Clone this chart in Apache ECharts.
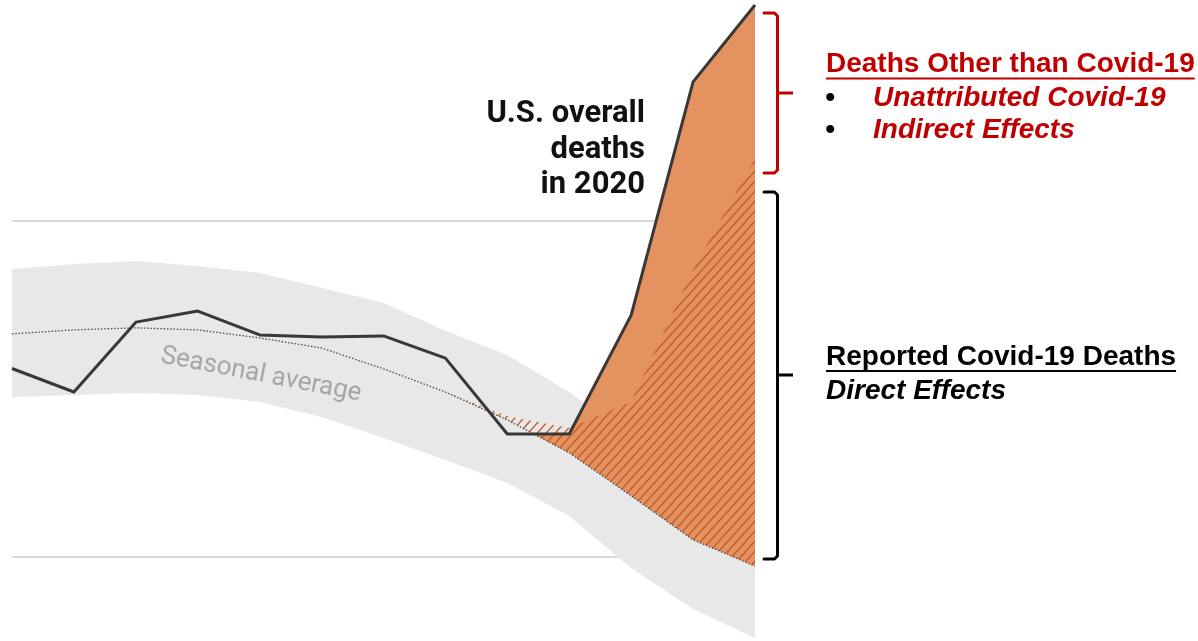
<!DOCTYPE html>
<html>
<head>
<meta charset="utf-8">
<title>U.S. overall deaths in 2020</title>
<script src="https://cdn.jsdelivr.net/npm/echarts@6/dist/echarts.min.js"></script>
<style>
  html, body { margin: 0; padding: 0; background: #ffffff; }
  #chart { width: 1198px; height: 641px; }
</style>
</head>
<body>
<div id="chart"></div>
<script>
// Weekly deaths in the U.S., thousands, weeks ending on the dates below (2020)
const weekEnding = ['Jan 18', 'Jan 25', 'Feb 1', 'Feb 8', 'Feb 15', 'Feb 22', 'Feb 29',
                    'Mar 7', 'Mar 14', 'Mar 21', 'Mar 28', 'Apr 4', 'Apr 11'];
const overallDeaths   = [55.61, 54.91, 56.99, 57.32, 56.61, 56.55, 56.58, 55.92, 53.66, 53.66, 57.20, 64.14, 66.43];
const seasonalAverage = [56.64, 56.76, 56.82, 56.76, 56.52, 56.22, 55.60, 54.91, 54.08, 53.10, 51.82, 50.51, 49.73];
const expectedUpper   = [58.57, 58.72, 58.81, 58.66, 58.45, 58.01, 57.56, 56.73, 56.01, 54.91, 53.48, 51.99, 50.80];
const expectedLower   = [54.76, 54.82, 54.88, 54.82, 54.61, 54.17, 53.54, 52.89, 52.20, 51.22, 49.67, 48.45, 47.59];
const reportedCovid   = [null, null, null, null, null, null, null, 0, 0.12, 0.74, 2.80, 8.04, 12.14];

// value axis: reference lines at every step, edge lines hidden
const axisMin = 40, axisMax = 70, axisStep = 10;

const RED = '#c00000';
const ORANGE = '#e4925f';

// diagonal hatch tile for the reported Covid-19 share
const tile = document.createElement('canvas');
tile.width = 9; tile.height = 10;
(function () {
  const c = tile.getContext('2d');
  c.strokeStyle = '#c65a2b';
  c.lineWidth = 1.4;
  c.beginPath();
  c.moveTo(0, 10); c.lineTo(9, 0);
  c.moveTo(-1, 1.1); c.lineTo(1, -1.1);
  c.moveTo(8, 11.1); c.lineTo(10, 8.9);
  c.stroke();
})();

const pts = (ys) => ys.map((v, i) => [i, v]);

function bandOutline() {
  const upper = pts(expectedUpper);
  const lower = pts(expectedLower).reverse();
  return upper.concat(lower);
}

// area where overall deaths rise above the seasonal average in the final surge
function excessOutline() {
  const n = overallDeaths.length;
  let k = -1;
  for (let i = 0; i < n - 1; i++) {
    const d0 = overallDeaths[i] - seasonalAverage[i];
    const d1 = overallDeaths[i + 1] - seasonalAverage[i + 1];
    if (d0 <= 0 && d1 > 0) k = i;
  }
  const d0 = overallDeaths[k] - seasonalAverage[k];
  const d1 = overallDeaths[k + 1] - seasonalAverage[k + 1];
  const t = d0 / (d0 - d1);
  const start = [k + t, overallDeaths[k] + t * (overallDeaths[k + 1] - overallDeaths[k])];
  const top = [start];
  for (let i = k + 1; i < n; i++) top.push([i, overallDeaths[i]]);
  const bottom = [];
  for (let i = n - 1; i > k; i--) bottom.push([i, seasonalAverage[i]]);
  return top.concat(bottom);
}

function reportedOutline() {
  const idx = [];
  reportedCovid.forEach((v, i) => { if (v != null) idx.push(i); });
  const top = idx.map(i => [i, seasonalAverage[i] + reportedCovid[i]]);
  const bottom = idx.slice().reverse().map(i => [i, seasonalAverage[i]]);
  return top.concat(bottom);
}

function polygonSeries(name, outline, style, z) {
  return {
    type: 'custom',
    name: name,
    coordinateSystem: 'cartesian2d',
    silent: true,
    z: z,
    clip: true,
    data: [[0, seasonalAverage[0]]],
    renderItem: function (params, api) {
      return {
        type: 'polygon',
        shape: { points: outline().map(p => api.coord(p)) },
        style: style
      };
    }
  };
}

// width of a string in a given font, for the underlines
function textWidth(str, font) {
  const c = document.createElement('canvas').getContext('2d');
  c.font = font;
  return c.measureText(str).width;
}

const headFont = 'bold 28px "Liberation Sans", Arial, sans-serif';
const itemFont = 'italic bold 28px "Liberation Sans", Arial, sans-serif';
const bulletFont = '30px "Liberation Sans", Arial, sans-serif';
const otherTitle = 'Deaths Other than Covid-19';
const reportedTitle = 'Reported Covid-19 Deaths';
const otherW = textWidth(otherTitle, headFont);
const reportedW = textWidth(reportedTitle, headFont);

function bracket(top, bottom, mid, color) {
  const x = 777.5;
  return [
    {
      type: 'polyline', silent: true, z: 10,
      shape: { points: [[764, top], [774.5, top], [x, top + 3], [x, bottom - 3], [774.5, bottom], [764, bottom]] },
      style: { stroke: color, lineWidth: 3, fill: null, lineJoin: 'round', lineCap: 'round' }
    },
    {
      type: 'line', silent: true, z: 10,
      shape: { x1: x, y1: mid, x2: 793, y2: mid },
      style: { stroke: color, lineWidth: 3, lineCap: 'butt' }
    }
  ];
}

const chart = echarts.init(document.getElementById('chart'), null, { renderer: 'canvas' });

chart.setOption({
  animation: false,
  backgroundColor: '#ffffff',
  grid: { left: 12, width: 743, top: -115, height: 1008, containLabel: false, outerBoundsMode: 'none' },
  xAxis: {
    type: 'value', min: 0, max: weekEnding.length - 1,
    show: false
  },
  yAxis: {
    type: 'value', min: axisMin, max: axisMax, interval: axisStep,
    axisLine: { show: false }, axisTick: { show: false }, axisLabel: { show: false },
    splitLine: {
      show: true, showMinLine: false, showMaxLine: false,
      lineStyle: { color: '#cccccc', width: 1.5 }
    }
  },
  series: [
    polygonSeries('Expected range', bandOutline, { fill: '#e8e8e8' }, 2),
    polygonSeries('Excess deaths', excessOutline, { fill: ORANGE }, 3),
    polygonSeries('Reported Covid-19 deaths', reportedOutline, { fill: { image: tile, repeat: 'repeat' } }, 4),
    {
      type: 'line', name: 'Seasonal average', z: 5, silent: true,
      data: pts(seasonalAverage), symbol: 'none',
      lineStyle: { color: '#4a4a4a', width: 1.3, type: [1.5, 1.8] }
    },
    {
      type: 'line', name: 'U.S. overall deaths', z: 6, silent: true,
      data: pts(overallDeaths), symbol: 'none',
      lineStyle: { color: '#383838', width: 3, join: 'round' }
    }
  ],
  graphic: [
    {
      type: 'text', x: 261, y: 375, rotation: -0.19, silent: true, z: 10,
      style: {
        text: 'Seasonal average', fontSize: 26, fontFamily: 'Roboto', fontWeight: 'normal',
        fill: '#a6a6a6', align: 'center', verticalAlign: 'middle'
      }
    },
    {
      type: 'text', x: 645, y: 150, silent: true, z: 10,
      style: {
        text: 'U.S. overall\ndeaths\nin 2020', font: 'bold 31px Roboto', lineHeight: 35.5,
        fill: '#111111', align: 'right', verticalAlign: 'middle'
      }
    },
    ...bracket(13, 173, 93, RED),
    ...bracket(192, 559, 375, '#000000'),
    {
      type: 'text', x: 826, y: 64, silent: true, z: 10,
      style: { text: otherTitle, font: headFont, fill: RED, align: 'left', verticalAlign: 'middle' }
    },
    {
      type: 'rect', silent: true, z: 10,
      shape: { x: 826, y: 77.5, width: otherW, height: 2 },
      style: { fill: RED }
    },
    {
      type: 'text', x: 825, y: 99, silent: true, z: 10,
      style: { text: '•', font: bulletFont, fill: '#000', align: 'left', verticalAlign: 'middle' }
    },
    {
      type: 'text', x: 825, y: 131, silent: true, z: 10,
      style: { text: '•', font: bulletFont, fill: '#000', align: 'left', verticalAlign: 'middle' }
    },
    {
      type: 'text', x: 873, y: 98, silent: true, z: 10,
      style: { text: 'Unattributed Covid-19', font: itemFont, fill: RED, align: 'left', verticalAlign: 'middle' }
    },
    {
      type: 'text', x: 873, y: 130, silent: true, z: 10,
      style: { text: 'Indirect Effects', font: itemFont, fill: RED, align: 'left', verticalAlign: 'middle' }
    },
    {
      type: 'text', x: 826, y: 357, silent: true, z: 10,
      style: { text: reportedTitle, font: headFont, fill: '#000', align: 'left', verticalAlign: 'middle' }
    },
    {
      type: 'rect', silent: true, z: 10,
      shape: { x: 826, y: 370, width: reportedW, height: 2 },
      style: { fill: '#000' }
    },
    {
      type: 'text', x: 826, y: 391, silent: true, z: 10,
      style: { text: 'Direct Effects', font: itemFont, fill: '#000', align: 'left', verticalAlign: 'middle' }
    }
  ]
});
</script>
</body>
</html>
